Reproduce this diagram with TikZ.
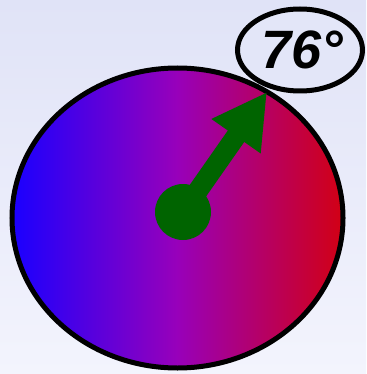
\documentclass[tikz,border=0pt]{standalone}
\usepackage{fontspec}
\setsansfont{Liberation Sans}
\usetikzlibrary{arrows.meta, shapes.geometric}
\definecolor{bgtop}{HTML}{E0E3F7}
\definecolor{bgbottom}{HTML}{F3F4FD}
\definecolor{dialleft}{HTML}{1A00FF}
\definecolor{dialmid}{HTML}{9800BA}
\definecolor{dialright}{HTML}{D20014}
\definecolor{needle}{HTML}{006400}
\tikzset{
  dial/.style={ellipse, draw=black, line width=5pt, inner sep=0pt,
               left color=dialleft, right color=dialright, middle color=dialmid,
               minimum width=331pt, minimum height=300pt},
  readout/.style={ellipse, draw=black, line width=5pt, inner sep=0pt,
                  fill=bgtop!85!bgbottom, minimum width=125pt, minimum height=82pt,
                  font=\sffamily\bfseries\itshape\fontsize{54}{54}\selectfont},
  hub/.style={circle, fill=needle, inner sep=0pt, minimum size=56pt},
  pointer/.style={-{Triangle[length=54pt, width=56pt]}, line width=20pt, draw=needle},
}

\begin{document}
\begin{tikzpicture}[x=1pt, y=-1pt]

% Background
\fill[top color=bgtop, bottom color=bgbottom] (0,0) rectangle (366,374);
\useasboundingbox (0,0) rectangle (366,374);

% Dial and readout
\node[dial] (dial) at (177.5,218) {};
\node[readout] (label) at (300,50) {\hspace{4pt}76°};

% Needle
\node[hub] (hub) at (183,212) {};
\coordinate (tip) at (267,92);
\draw[pointer] (hub.center) -- (tip);

\end{tikzpicture}
\end{document}
